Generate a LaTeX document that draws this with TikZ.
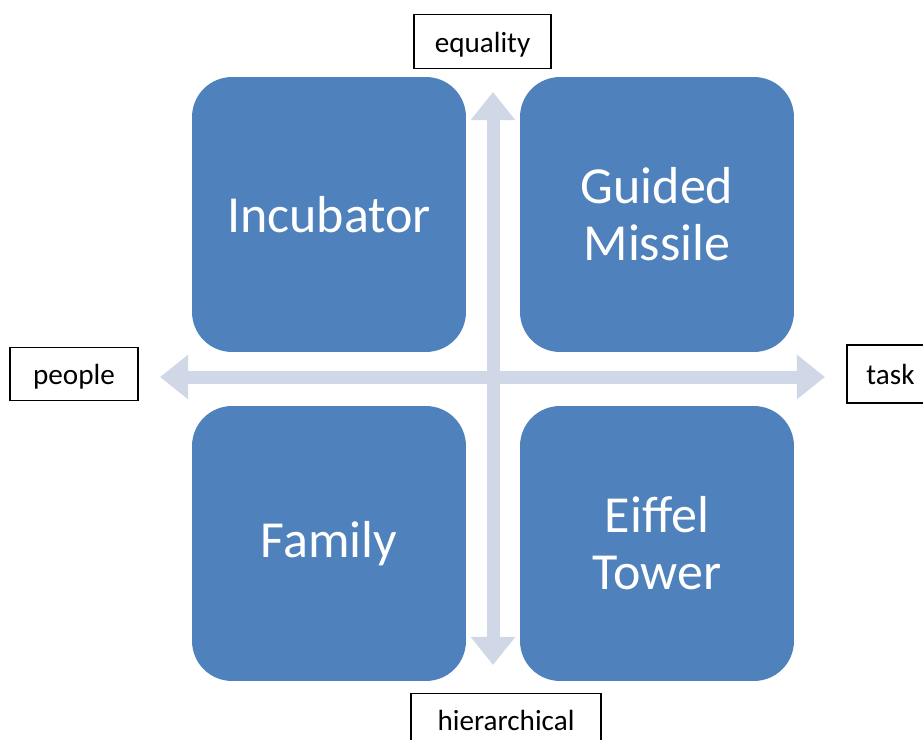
\documentclass[tikz,border=0pt]{standalone}
\usepackage{fontspec}
\setmainfont{Carlito}
\usetikzlibrary{arrows.meta}
\definecolor{QuadBlue}{HTML}{4F81BD}
\definecolor{AxisGrey}{HTML}{D0D8E8}

\begin{document}
\begin{tikzpicture}[
	x=0.02cm, y=-0.02cm, % one unit per pixel of the layout
	% Style for the four rounded quadrant boxes
	quad/.style={
		rectangle,
		rounded corners=0.8cm,
		fill=QuadBlue,
		text=white,
		minimum width=5.48cm,
		minimum height=5.5cm,
		align=center,
		font=\fontsize{29.6}{32.5}\selectfont
	},
	% Style for the framed axis labels
	axis label/.style={
		rectangle,
		draw=black,
		line width=0.6pt,
		fill=white,
		inner sep=0pt,
		text height=12pt,
		text depth=0pt,
		minimum height=1.07cm,
		font=\fontsize{16.6}{19}\selectfont
	},
	% Style for the double-headed axis arrows
	axis/.style={
		draw=AxisGrey,
		line width=7.4pt,
		{Triangle[width=24.4pt,length=16pt]}-{Triangle[width=24.4pt,length=16pt]}
	}
	]
	
	\clip (0,0) rectangle (923,740);
	
	% 1. Axis end points
	\coordinate (top) at (493, 92);
	\coordinate (bottom) at (493, 665);
	\coordinate (left) at (160, 377);
	\coordinate (right) at (825, 377);
	
	% 2. Axes
	\draw[axis] (left) -- (right);
	\draw[axis] (bottom) -- (top);
	
	% 3. Quadrants
	\node[quad] (incubator) at (329, 214.5) {Incubator};
	\node[quad] (missile) at (657, 214.5) {Guided\\Missile};
	\node[quad] (family) at (329, 543.5) {Family};
	\node[quad] (tower) at (657, 543.5) {Eiffel\\Tower};
	
	% 4. Axis labels
	\node[axis label, minimum width=2.74cm] (equality) at (482.5, 41.5) {equality};
	\node[axis label, minimum width=2.56cm] (people) at (74, 374) {people};
	\node[axis label, minimum width=1.74cm, minimum height=1.16cm] (task) at (890.5, 374) {task};
	\node[axis label, minimum width=3.8cm] (hierarchical) at (506, 720) {hierarchical};
	
\end{tikzpicture}
\end{document}
